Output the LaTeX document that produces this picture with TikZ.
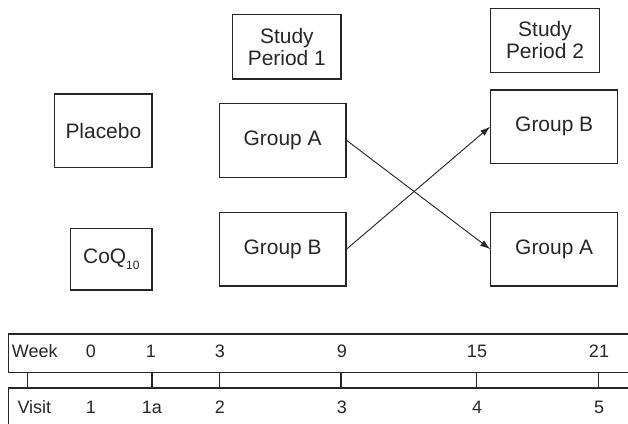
\documentclass[tikz,border=0pt]{standalone}
\usepackage{fontspec}
\setmainfont{Liberation Sans}
\usetikzlibrary{arrows.meta}
\definecolor{ink}{HTML}{262626}
\tikzset{
  box/.style={draw=ink, line width=0.8pt, inner sep=0pt, align=center, text=ink,
    font=\fontsize{15.7}{16.5}\selectfont},
  tl/.style={anchor=base, inner sep=0pt, text=ink, font=\fontsize{13.5}{14}\selectfont},
  conn/.style={draw=ink, line width=0.7pt, -{Latex[length=7.5pt,width=5pt]}},
  rule/.style={draw=ink, line width=0.8pt}
}
\begin{document}
\begin{tikzpicture}[x=0.75pt,y=-0.75pt]
\useasboundingbox (0,0) rectangle (628,424);
\clip (0,0) rectangle (628,424);
% header boxes
\node[box, minimum width=108.3*0.75pt, minimum height=64.3*0.75pt] (sp1) at (286.85,46.85) {Study\\Period 1};
\node[box, minimum width=108.6*0.75pt, minimum height=64.2*0.75pt] (sp2) at (545,40.4) {Study\\Period 2};
% treatment boxes
\node[box, minimum width=97.3*0.75pt, minimum height=73.7*0.75pt] (pl) at (103.35,130.85) {Placebo};
\node[box, minimum width=81.3*0.75pt, minimum height=61.3*0.75pt] (coq) at (111.35,259.35) {CoQ\raisebox{-0.55ex}{\fontsize{9}{9}\selectfont 10}};
% groups
\node[box, minimum width=126.7*0.75pt, minimum height=74*0.75pt] (gA1) at (282.65,140.3) {Group A};
\node[box, minimum width=126.7*0.75pt, minimum height=73.7*0.75pt] (gB1) at (282.65,249.15) {Group B};
\node[box, minimum width=127*0.75pt, minimum height=73.3*0.75pt] (gB2) at (554.2,126.65) {Group B};
\node[box, minimum width=127*0.75pt, minimum height=73.7*0.75pt] (gA2) at (554.2,249.15) {Group A};
\draw[conn] (gA1.east) -- (gA2.west);
\draw[conn] (gB1.east) -- (gB2.west);
% timeline
\draw[rule] (640,334) -- (8.3,334) -- (8.3,372.3) -- (640,372.3);
\draw[rule] (640,388) -- (8.3,388) -- (8.3,440);
\foreach \x in {27.2,152,219.6,341,476.8,598.8}
  \draw[rule] (\x,372.3) -- (\x,388);
\node[tl, anchor=base west] (wk) at (11.7,357.7) {Week};
\node[tl] (w0) at (91,357.7) {0};
\node[tl] (w1) at (151,357.7) {1};
\node[tl] (w3) at (220,357.7) {3};
\node[tl] (w9) at (342,357.7) {9};
\node[tl] (w15) at (477,357.7) {15};
\node[tl] (w21) at (599,357.7) {21};
\node[tl, anchor=base west] (vs) at (17.3,413.3) {Visit};
\node[tl] (v1) at (91,413.3) {1};
\node[tl] (v1a) at (152,413.3) {1a};
\node[tl] (v2) at (220,413.3) {2};
\node[tl] (v3) at (342,413.3) {3};
\node[tl] (v4) at (477,413.3) {4};
\node[tl] (v5) at (599,413.3) {5};
\end{tikzpicture}
\end{document}
